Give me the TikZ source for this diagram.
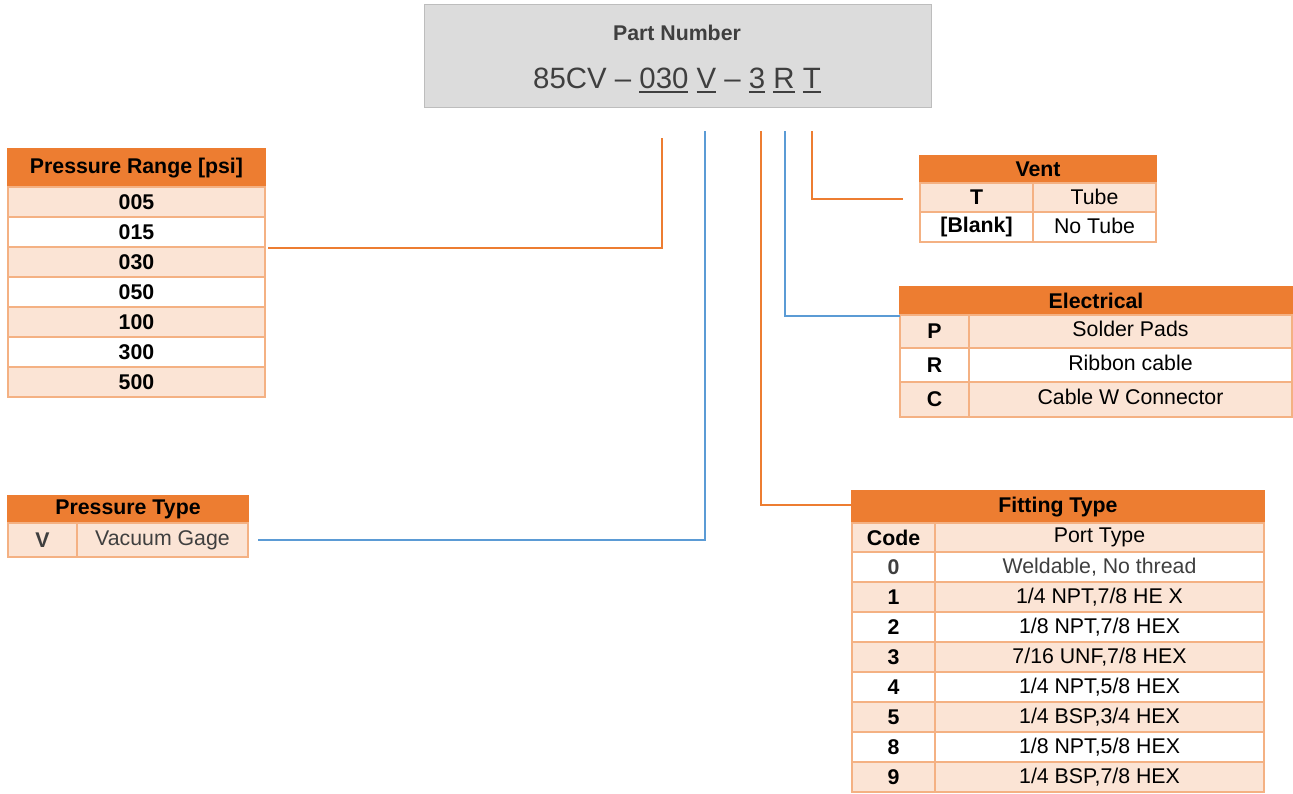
\documentclass[tikz,border=0pt]{standalone}
\usepackage{fontspec}
\setmainfont{Liberation Sans}
\definecolor{hdr}{HTML}{ED7D31}
\definecolor{lt}{HTML}{FBE4D5}
\definecolor{bord}{HTML}{F4B183}
\definecolor{blu}{HTML}{5B9BD5}
\definecolor{pnfill}{HTML}{DCDCDC}
\definecolor{pnbord}{HTML}{BDBDBD}
\definecolor{dk}{HTML}{3F3F3F}
\newcommand\pnul[1]{\setbox0\hbox{#1}\rlap{\rule[-5pt]{\wd0}{1.8pt}}\box0\relax}
\tikzset{
  cell/.style={draw=bord, line width=1.3pt, inner sep=0pt, outer sep=0pt, anchor=north west,
    font=\fontsize{21.3}{25}\selectfont, text=black},
  hd/.style={cell, draw=hdr, fill=hdr, font=\fontsize{21.3}{25}\selectfont\bfseries},
  on/.style={fill=lt},
  off/.style={fill=white},
  oc/.style={draw=hdr, line width=2pt},
  bc/.style={draw=blu, line width=2pt},
}
\begin{document}
\begin{tikzpicture}[x=1pt,y=-1pt]
\useasboundingbox (0,0) rectangle (1293,793);
% part number box
\node[draw=pnbord, fill=pnfill, line width=1.2pt, minimum width=507pt, minimum height=103pt,
  anchor=north west, inner sep=0pt] (pn) at (424,4) {};
\node[font=\fontsize{21.3}{25}\selectfont\bfseries, text=dk] (pnt) at (677,33) {Part Number};
\node[font=\fontsize{29.4}{34}\selectfont, text=dk, anchor=base] (pns) at (677,88)
  {85CV -- \pnul{030} \pnul{V} -- \pnul{3} \pnul{R} \pnul{T}};
% pressure range
\node[hd, minimum width=257pt, minimum height=38pt] (prh) at (8,149) {Pressure Range [psi]};
\node[cell,on, minimum width=257pt, minimum height=30pt] (pr1) at (8,187) {\bfseries 005};
\node[cell,off,minimum width=257pt, minimum height=30pt] (pr2) at (8,217) {\bfseries 015};
\node[cell,on, minimum width=257pt, minimum height=30pt] (pr3) at (8,247) {\bfseries 030};
\node[cell,off,minimum width=257pt, minimum height=30pt] (pr4) at (8,277) {\bfseries 050};
\node[cell,on, minimum width=257pt, minimum height=30pt] (pr5) at (8,307) {\bfseries 100};
\node[cell,off,minimum width=257pt, minimum height=30pt] (pr6) at (8,337) {\bfseries 300};
\node[cell,on, minimum width=257pt, minimum height=30pt] (pr7) at (8,367) {\bfseries 500};
% pressure type
\node[hd, minimum width=240pt, minimum height=27pt] (pth) at (8,496) {Pressure Type};
\node[cell,on, minimum width=69pt, minimum height=34pt] (pta) at (8,523) {\bfseries\color{dk}V};
\node[cell,on, minimum width=171pt, minimum height=34pt, text=dk] (ptb) at (77,523) {Vacuum Gage};
% vent
\node[hd, minimum width=236pt, minimum height=27pt] (vh) at (920,156) {Vent};
\node[cell,on, minimum width=113pt, minimum height=29pt] (v1a) at (920,183) {\bfseries T};
\node[cell,on, minimum width=123pt, minimum height=29pt] (v1b) at (1033,183) {\raisebox{2pt}{Tube}};
\node[cell,off,minimum width=113pt, minimum height=30pt] (v2a) at (920,212) {\bfseries [Blank]};
\node[cell,off,minimum width=123pt, minimum height=30pt] (v2b) at (1033,212) {\raisebox{2pt}{No Tube}};
% electrical
\node[hd, minimum width=392pt, minimum height=28pt] (eh) at (900,287) {Electrical};
\node[cell,on, minimum width=69pt, minimum height=33pt] (e1a) at (900,315) {\bfseries P};
\node[cell,on, minimum width=323pt, minimum height=33pt] (e1b) at (969,315) {\raisebox{5pt}{Solder Pads}};
\node[cell,off,minimum width=69pt, minimum height=34pt] (e2a) at (900,348) {\bfseries R};
\node[cell,off,minimum width=323pt, minimum height=34pt] (e2b) at (969,348) {\raisebox{5pt}{Ribbon cable}};
\node[cell,on, minimum width=69pt, minimum height=35pt] (e3a) at (900,382) {\bfseries C};
\node[cell,on, minimum width=323pt, minimum height=35pt] (e3b) at (969,382) {\raisebox{6pt}{Cable W Connector}};
% fitting type
\node[hd, minimum width=412pt, minimum height=32pt] (fh) at (852,491) {Fitting Type};
\node[cell,on, minimum width=83pt, minimum height=29pt] (fca) at (852,523) {\bfseries Code};
\node[cell,on, minimum width=329pt, minimum height=29pt] (fcb) at (935,523) {Port Type};
\node[cell,off,minimum width=83pt, minimum height=30pt] (f0a) at (852,552) {\bfseries\color{dk}0};
\node[cell,off,minimum width=329pt, minimum height=30pt, text=dk] (f0b) at (935,552) {Weldable, No thread};
\node[cell,on, minimum width=83pt, minimum height=30pt] (f1a) at (852,582) {\bfseries 1};
\node[cell,on, minimum width=329pt, minimum height=30pt] (f1b) at (935,582) {1/4 NPT,7/8 HE X};
\node[cell,off,minimum width=83pt, minimum height=30pt] (f2a) at (852,612) {\bfseries 2};
\node[cell,off,minimum width=329pt, minimum height=30pt] (f2b) at (935,612) {1/8 NPT,7/8 HEX};
\node[cell,on, minimum width=83pt, minimum height=30pt] (f3a) at (852,642) {\bfseries 3};
\node[cell,on, minimum width=329pt, minimum height=30pt] (f3b) at (935,642) {7/16 UNF,7/8 HEX};
\node[cell,off,minimum width=83pt, minimum height=30pt] (f4a) at (852,672) {\bfseries 4};
\node[cell,off,minimum width=329pt, minimum height=30pt] (f4b) at (935,672) {1/4 NPT,5/8 HEX};
\node[cell,on, minimum width=83pt, minimum height=30pt] (f5a) at (852,702) {\bfseries 5};
\node[cell,on, minimum width=329pt, minimum height=30pt] (f5b) at (935,702) {1/4 BSP,3/4 HEX};
\node[cell,off,minimum width=83pt, minimum height=30pt] (f8a) at (852,732) {\bfseries 8};
\node[cell,off,minimum width=329pt, minimum height=30pt] (f8b) at (935,732) {1/8 NPT,5/8 HEX};
\node[cell,on, minimum width=83pt, minimum height=30pt] (f9a) at (852,762) {\bfseries 9};
\node[cell,on, minimum width=329pt, minimum height=30pt] (f9b) at (935,762) {1/4 BSP,7/8 HEX};
% connector ends
\coordinate (s030) at (662,138);
\coordinate (sV) at (705,131);
\coordinate (s3) at (761,131);
\coordinate (sR) at (785,131);
\coordinate (sT) at (812,131);
\coordinate (ePR) at (268,248);
\coordinate (ePT) at (258,540);
\coordinate (eFT) at (852,505);
\coordinate (eEL) at (900,316);
\coordinate (eVT) at (903,199);
\draw[oc] (s030) |- (ePR);
\draw[bc] (sV) |- (ePT);
\draw[oc] (s3) |- (eFT);
\draw[bc] (sR) |- (eEL);
\draw[oc] (sT) |- (eVT);
\end{tikzpicture}
\end{document}
